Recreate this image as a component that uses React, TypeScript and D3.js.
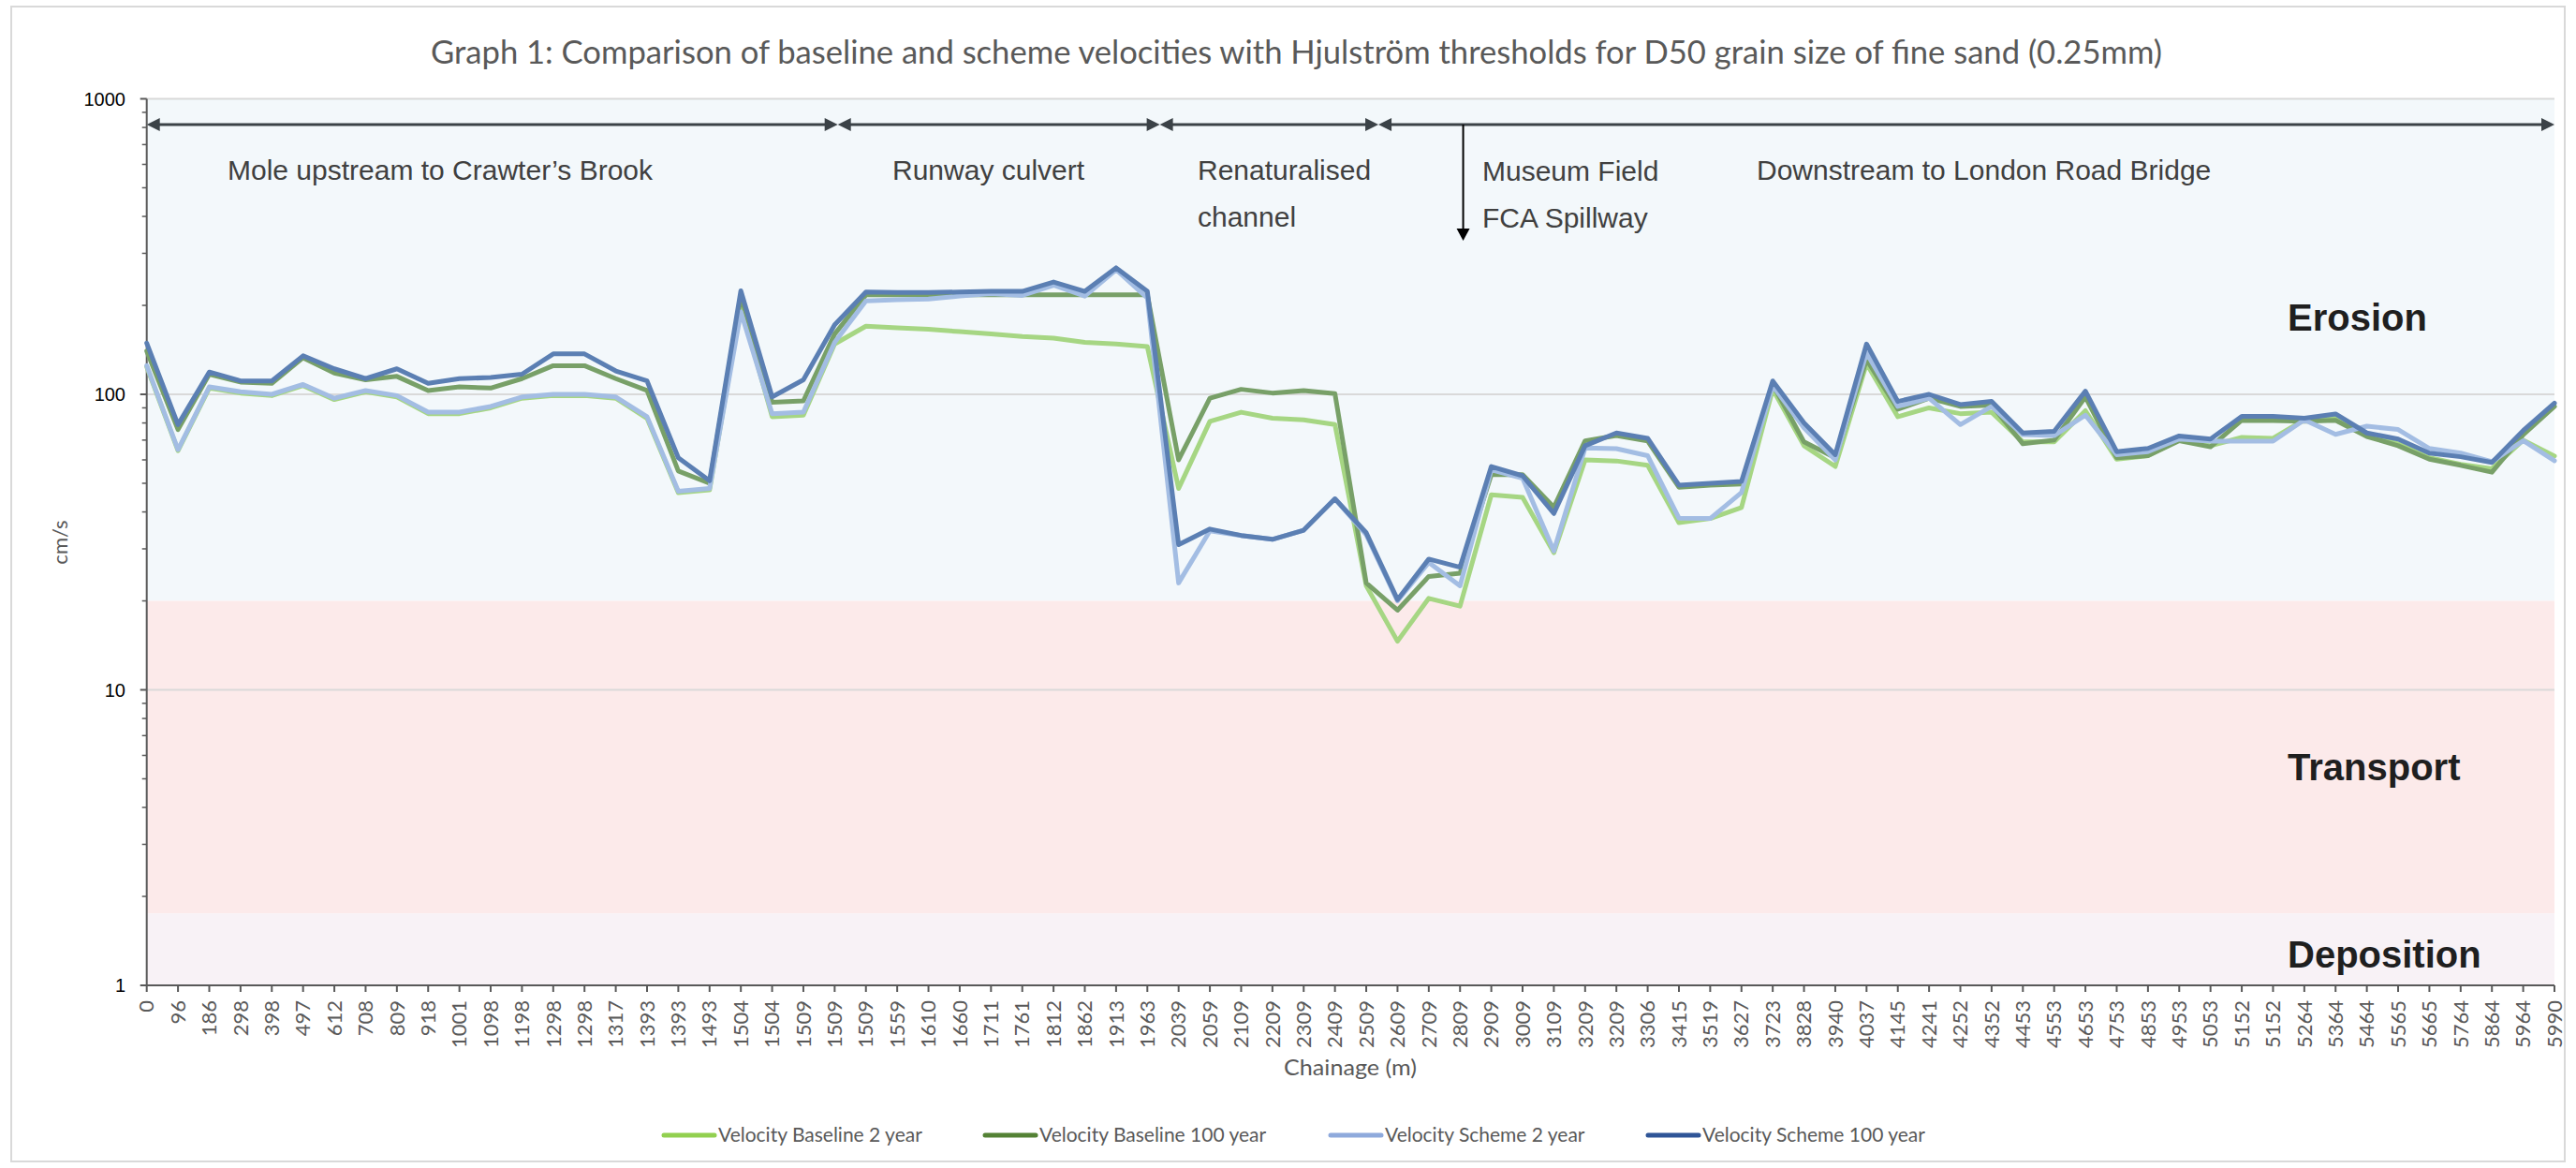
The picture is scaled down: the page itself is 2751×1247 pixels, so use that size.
import React from 'react';
import * as d3 from 'd3';

const chainage = ["0","96","186","298","398","497","612","708","809","918","1001","1098","1198","1298","1298","1317","1393","1393","1493","1504","1504","1509","1509","1509","1559","1610","1660","1711","1761","1812","1862","1913","1963","2039","2059","2109","2209","2309","2409","2509","2609","2709","2809","2909","3009","3109","3209","3209","3306","3415","3519","3627","3723","3828","3940","4037","4145","4241","4252","4352","4453","4553","4653","4753","4853","4953","5053","5152","5152","5264","5364","5464","5565","5665","5764","5864","5964","5990"];

const baseline2 = [124,64.5,105,101,99,107,96,102,98,86,86,90,97,99,99,97,83,46.5,47.5,200,84,85,148,170,168,166,163,160,157,155,150,148,145,48,81,87,83,82,79,22.5,14.6,20.4,19.2,45.7,44.8,29.1,60,59.5,57.5,36.8,38,41.4,104,67,57,127,84,90,86,87,69,69,88,60.3,62,70,67,71.5,71,82,83,73,68,61,58,56,70,61.8];
const baseline100 = [140,76,117,110,109,133,118,112,115,103,106,105,113,125,125,113,103,55,50,215,94,95,160,217,217,217,217,217,217,217,217,217,217,60,97,104,101,103,100.5,23,18.6,24.2,24.8,53.5,53.5,41.5,69.6,72.5,69.5,48.5,49.3,49.7,108,69,61,131,89,97,91,92,68,70,98,61,62,69.7,66.4,81.7,81.5,81,81.7,72,67,60.3,57.5,54.5,73,91];
const scheme2 = [125,65,106,102,100,108,97,103,99,87,87,91,98,100,100,98,84,47,48,190,86,87,150,207,209,210,215,219,216,234,215,264,212,23,34.5,33.3,32.3,34.7,44.3,33.5,20,27,22.5,55.5,52,29.5,65.8,65.5,62,38.1,38,46.5,107,77,60,138,91,97,79,91,73,72.5,85,62.5,64,70.6,69.4,69.4,69.4,82,73.2,78,76,65.6,63.3,59.2,69.7,59.6];
const scheme100 = [149,79,119,111,111,135,122,113,122,109,113,114,117,137,137,120,111,61,51,224,98,112,172,222,221,221,222,223,223,240,223,268,223,31,35,33.3,32.3,34.7,44.3,34,20.2,27.7,26,57,53,39.5,67,74,71,49.3,50,50.7,111,80,62.5,148,94.6,100,92.3,94.6,74,75,102.5,64,65.6,72.3,70.6,84.3,84.3,83,85.8,74,70.6,63.3,61.5,58.8,75.4,93.4];

const seriesNames = ["Velocity Baseline 2 year","Velocity Baseline 100 year","Velocity Scheme 2 year","Velocity Scheme 100 year"];
const seriesColors = ["#92D050","#548235","#8FAADC","#2F5597"];
const plotColors = ["#A6D683","#78A068","#A3BDE3","#5B7FB3"];
const yTicks = [1,10,100,1000];

const zoneNames = ["Erosion","Transport","Deposition"];
const zoneLower = [20,1.75,1];
const zoneUpper = [1000,20,1.75];
const zoneColors = ["#F3F8FB","#FCEAEA","#F8F2F6"];

const reachBounds = [0,22.1,32.4,39.39,77];

export default function App() {
  const W = 2751, H = 1247;
  const left = 156.7, right = 2728, top = 105.5, bottom = 1052;
  const idx = chainage.map((_, i) => String(i));
  const x = d3.scalePoint<string>().domain(idx).range([left, right]).padding(0);
  const step = x.step();
  const xf = (f: number) => left + f * step;
  const y = d3.scaleLog().domain([1, 1000]).range([bottom, top]);
  const line = d3.line<number>().x((_, i) => x(String(i)) as number).y(d => y(d));
  const series = [baseline2, baseline100, scheme2, scheme100];

  const minor: number[] = [];
  [1, 10, 100].forEach(d => { for (let k = 2; k <= 9; k++) minor.push(d * k); });

  const arrowY = 133;
  const hl = 14, hw = 7;
  const calibri = "Lato, 'Open Sans', sans-serif";
  const arial = "'Liberation Sans', Arial, sans-serif";
  const grey = "#595959";

  const legendSample = [709, 1052, 1421, 1760];

  return (
    <svg width={W} height={H} style={{ position: 'absolute', left: 0, top: 0, background: '#fff' }}>
      <rect x={12} y={7} width={2727} height={1233} fill="#fff" stroke="#D9D9D9" strokeWidth={2} />
      <text x={1384.5} y={68} textAnchor="middle" fontFamily={calibri} fontSize={34} fill={grey} textLength={1849} lengthAdjust="spacingAndGlyphs">Graph 1: Comparison of baseline and scheme velocities with Hjulström thresholds for D50 grain size of fine sand (0.25mm)</text>

      {zoneNames.map((z, i) => (
        <rect key={z} x={left} y={y(zoneUpper[i])} width={right - left} height={y(zoneLower[i]) - y(zoneUpper[i])} fill={zoneColors[i]} />
      ))}
      {[10, 100, 1000].map(v => (
        <line key={v} x1={left} x2={right} y1={y(v)} y2={y(v)} stroke="#D9D9D9" strokeWidth={2} />
      ))}

      <line x1={left} x2={left} y1={top} y2={bottom} stroke={grey} strokeWidth={2} />
      {yTicks.map(v => (
        <g key={v}>
          <line x1={left - 7} x2={left} y1={y(v)} y2={y(v)} stroke={grey} strokeWidth={2} />
          <text x={134} y={y(v)} dy="0.35em" textAnchor="end" fontFamily={arial} fontSize={20} fill="#000">{v}</text>
        </g>
      ))}
      {minor.map(v => (
        <line key={'m' + v} x1={left - 5} x2={left} y1={y(v)} y2={y(v)} stroke={grey} strokeWidth={1.5} />
      ))}
      <text transform={`translate(72,579) rotate(-90)`} textAnchor="middle" fontFamily={calibri} fontSize={22} fill={grey}>cm/s</text>

      <line x1={left} x2={right} y1={bottom} y2={bottom} stroke={grey} strokeWidth={2} />
      {idx.map((k, i) => (
        <g key={'x' + k}>
          <line x1={x(k)} x2={x(k)} y1={bottom} y2={bottom + 7} stroke={grey} strokeWidth={2} />
          <text transform={`translate(${x(k)},1068) rotate(-90)`} textAnchor="end" dy="0.35em" fontFamily={calibri} fontSize={22} fill={grey}>{chainage[i]}</text>
        </g>
      ))}
      <text x={1371} y={1148} fontFamily={calibri} fontSize={24} fill={grey} textLength={142} lengthAdjust="spacingAndGlyphs">Chainage (m)</text>

      {series.map((s, i) => (
        <path key={seriesNames[i]} d={line(s) || ''} fill="none" stroke={plotColors[i]} strokeWidth={5} strokeLinejoin="round" strokeLinecap="round" />
      ))}

      {reachBounds.slice(0, -1).map((b, i) => {
        const a = xf(b), c = xf(reachBounds[i + 1]);
        return (
          <g key={'r' + i}>
            <line x1={a + hl - 1} x2={c - hl + 1} y1={arrowY} y2={arrowY} stroke="#3B4247" strokeWidth={3} />
            <polygon points={`${a},${arrowY} ${a + hl},${arrowY - hw} ${a + hl},${arrowY + hw}`} fill="#3B4247" />
            <polygon points={`${c},${arrowY} ${c - hl},${arrowY - hw} ${c - hl},${arrowY + hw}`} fill="#3B4247" />
          </g>
        );
      })}
      <line x1={xf(42.1)} x2={xf(42.1)} y1={arrowY} y2={245} stroke="#000" strokeWidth={2} />
      <polygon points={`${xf(42.1)},257 ${xf(42.1) - 7},244 ${xf(42.1) + 7},244`} fill="#000" />

      <g fontFamily={arial} fontSize={30} fill="#404040">
        <text x={243} y={192}>Mole upstream to Crawter’s Brook</text>
        <text x={953} y={192}>Runway culvert</text>
        <text x={1279} y={192}>Renaturalised</text>
        <text x={1279} y={242}>channel</text>
        <text x={1583} y={193}>Museum Field</text>
        <text x={1583} y={243}>FCA Spillway</text>
        <text x={1876} y={192}>Downstream to London Road Bridge</text>
      </g>
      <g fontFamily={arial} fontSize={40} fontWeight="bold" fill="#1F1F1F">
        <text x={2443} y={353}>{zoneNames[0]}</text>
        <text x={2443} y={833}>{zoneNames[1]}</text>
        <text x={2443} y={1033}>{zoneNames[2]}</text>
      </g>

      {seriesNames.map((n, i) => (
        <g key={'l' + n}>
          <line x1={legendSample[i]} x2={legendSample[i] + 54} y1={1212} y2={1212} stroke={seriesColors[i]} strokeWidth={5} strokeLinecap="round" />
          <text x={legendSample[i] + 58} y={1212} dy="0.35em" fontFamily={calibri} fontSize={21} fill={grey}>{n}</text>
        </g>
      ))}
    </svg>
  );
}
